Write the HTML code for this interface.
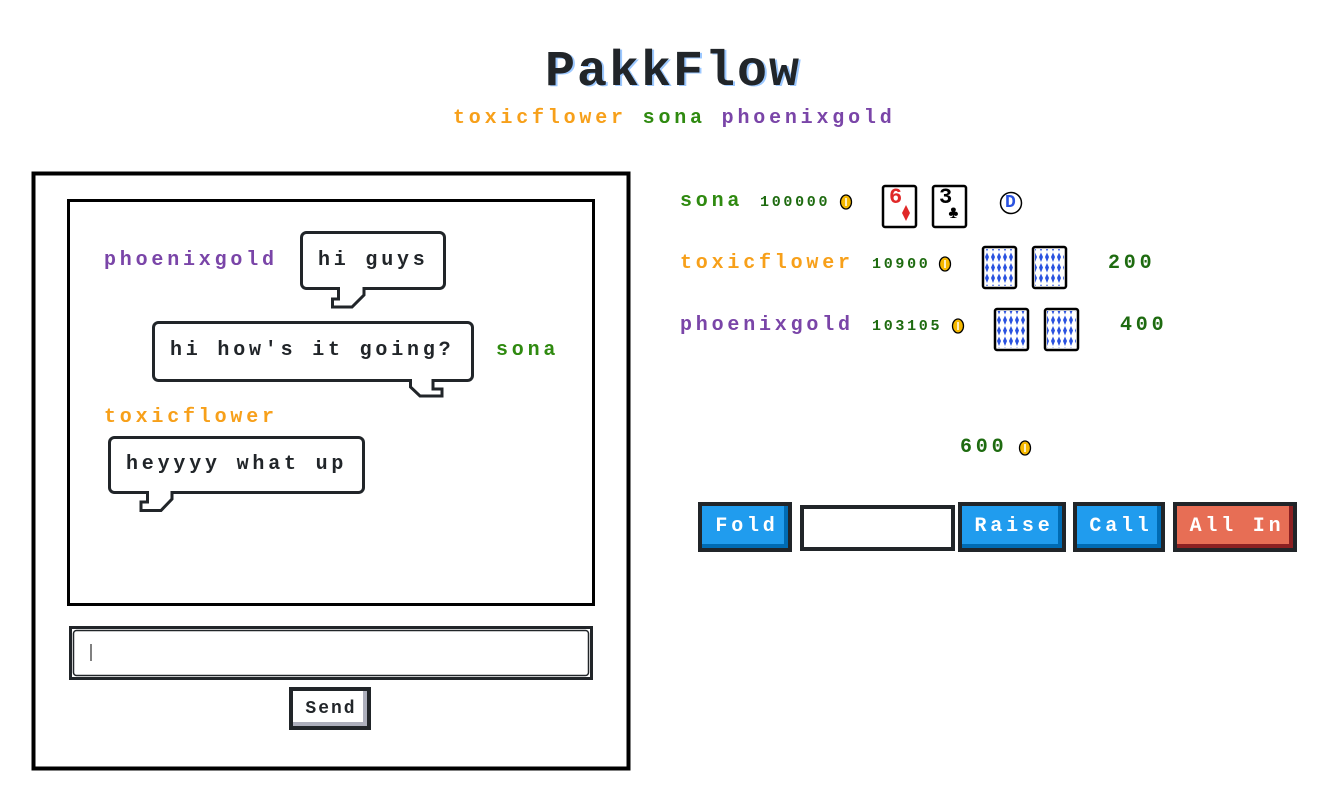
<!DOCTYPE html>
<html><head><meta charset="utf-8"><style>
body{margin:0;width:1344px;height:808px;background:#fff;position:relative;overflow:hidden;font-family:"Liberation Mono",monospace;font-weight:bold}
.t{position:absolute;font-size:20px;letter-spacing:3.8px;white-space:nowrap;line-height:20px}
.n{position:absolute;font-size:15px;letter-spacing:2.7px;white-space:nowrap;color:#1e6b10;line-height:14px}
.btn{position:absolute;box-sizing:border-box;border:4px solid #212529;color:#fff;font-size:20px;letter-spacing:3.8px;text-align:center;line-height:42px;padding-left:4px}
.blue{background:#209cee;box-shadow:inset -4px -4px #006bb3}
.red{background:#e76e55;box-shadow:inset -4px -4px #8c2022}
</style></head><body>
<svg width="1344" height="808" style="position:absolute;left:0;top:0">
<defs>
<pattern id="pb" width="6" height="10.5" patternUnits="userSpaceOnUse">
<polygon points="3,0.5 5,5 3,10 1,5" fill="#2a52e0"/>
</pattern>
</defs>
<rect x="33.5" y="173.5" width="595" height="595" fill="none" stroke="#000" stroke-width="4"/>
<rect x="68.5" y="200.5" width="525" height="404" fill="none" stroke="#000" stroke-width="3"/>
<g fill="#fff" stroke="#212529" stroke-width="3">
<rect x="301.5" y="232.5" width="143" height="56" rx="5"/>
<polyline points="338.5,288 338.5,299 332.5,299 332.5,307 352,307 364,295 364,288"/>
<rect x="153.5" y="322.5" width="319" height="58" rx="5"/>
<polyline points="410.5,380 410.5,387 420,396 442,396 442,389 433,389 433,380"/>
<rect x="109.5" y="437.5" width="254" height="55" rx="5"/>
<polyline points="147.5,492 147.5,502 141,502 141,510.5 161,510.5 172,499 172,492"/>
</g>
<g fill="#fff"><rect x="340" y="285" width="22.5" height="5"/><rect x="412" y="377" width="19.5" height="5"/><rect x="149" y="489" width="21.5" height="5"/></g>
<rect x="70.5" y="627.5" width="521" height="51" fill="none" stroke="#212529" stroke-width="3"/>
<rect x="73.5" y="630.5" width="515" height="45" rx="3" fill="none" stroke="#212529" stroke-width="1.5"/>
<line x1="91" y1="644" x2="91" y2="661" stroke="#000" stroke-width="1"/>
<g stroke="#000" stroke-width="2.5" fill="#fff">
<rect x="883" y="186" width="33" height="41" rx="2"/>
<rect x="933" y="186" width="33" height="41" rx="2"/>
<rect x="983" y="247" width="33" height="41" rx="2"/>
<rect x="1033" y="247" width="33" height="41" rx="2"/>
<rect x="995" y="309" width="33" height="41" rx="2"/>
<rect x="1045" y="309" width="33" height="41" rx="2"/>
</g>
<g fill="url(#pb)"><rect x="985" y="249" width="29" height="37"/><rect x="1035" y="249" width="29" height="37"/><rect x="997" y="311" width="29" height="37"/><rect x="1047" y="311" width="29" height="37"/></g>
<polygon points="906,205 910,213 906,221 902,213" fill="#e02828"/>
<circle cx="1011" cy="203" r="10.5" fill="#fff" stroke="#000" stroke-width="1.5"/>
<g fill="#f5b800" stroke="#000" stroke-width="1.3">
<ellipse cx="846" cy="202" rx="5.5" ry="7"/><ellipse cx="945" cy="264" rx="5.5" ry="7"/><ellipse cx="958" cy="326" rx="5.5" ry="7"/><ellipse cx="1025" cy="448" rx="5.5" ry="7"/>
</g>
<g stroke="#fff" stroke-width="1.5"><line x1="846" y1="198" x2="846" y2="206"/><line x1="945" y1="260" x2="945" y2="268"/><line x1="958" y1="322" x2="958" y2="330"/><line x1="1025" y1="444" x2="1025" y2="452"/></g>
</svg>
<div style="position:absolute;left:0;width:1344px;top:50px;text-align:center;font-size:50px;letter-spacing:2px;color:#212529;line-height:46px;text-shadow:2px 1px #9cc8ff;padding-left:2px;box-sizing:border-box">PakkFlow</div>
<div class="t" style="left:453px;top:109px"><span style="color:#f7a01a">toxicflower</span> <span style="color:#2f8a10">sona</span> <span style="color:#7a45a8">phoenixgold</span></div>
<div class="t" style="left:104px;top:251px;color:#7a45a8">phoenixgold</div>
<div class="t" style="left:318px;top:251px;color:#212529">hi guys</div>
<div class="t" style="left:170px;top:341px;color:#212529">hi how's it going?</div>
<div class="t" style="left:496px;top:341px;color:#2f8a10">sona</div>
<div class="t" style="left:104px;top:408px;color:#f7a01a">toxicflower</div>
<div class="t" style="left:126px;top:455px;color:#212529">heyyyy what up</div>
<div style="position:absolute;left:289px;top:687px;width:82px;height:43px;box-sizing:border-box;border:4px solid #212529;box-shadow:inset -4px -4px #adafbc;font-size:18px;letter-spacing:2px;text-align:center;line-height:36px;color:#212529;padding-left:2px">Send</div>
<div class="t" style="left:680px;top:192px;color:#2f8a10">sona</div>
<div class="n" style="left:760px;top:196px">100000</div>
<div style="position:absolute;left:889px;top:186px;font-size:22px;color:#e02828;line-height:24px">6</div>
<div style="position:absolute;left:939px;top:186px;font-size:22px;color:#000;line-height:24px">3</div>
<div style="position:absolute;left:948px;top:204px;font-size:18px;color:#000;line-height:20px">♣</div>
<div style="position:absolute;left:1005px;top:193px;font-size:18px;color:#2a52e0;line-height:20px">D</div>
<div class="t" style="left:680px;top:254px;color:#f7a01a">toxicflower</div>
<div class="n" style="left:872px;top:258px">10900</div>
<div class="t" style="left:1108px;top:254px;color:#1e6b10">200</div>
<div class="t" style="left:680px;top:316px;color:#7a45a8">phoenixgold</div>
<div class="n" style="left:872px;top:320px">103105</div>
<div class="t" style="left:1120px;top:316px;color:#1e6b10">400</div>
<div class="t" style="left:960px;top:438px;color:#1e6b10">600</div>
<div class="btn blue" style="left:698px;top:502px;width:94px;height:50px">Fold</div>
<div style="position:absolute;left:800px;top:505px;width:155px;height:46px;box-sizing:border-box;border:4px solid #212529;background:#fff"></div>
<div class="btn blue" style="left:958px;top:502px;width:108px;height:50px">Raise</div>
<div class="btn blue" style="left:1073px;top:502px;width:92px;height:50px">Call</div>
<div class="btn red" style="left:1173px;top:502px;width:124px;height:50px">All In</div>
</body></html>
